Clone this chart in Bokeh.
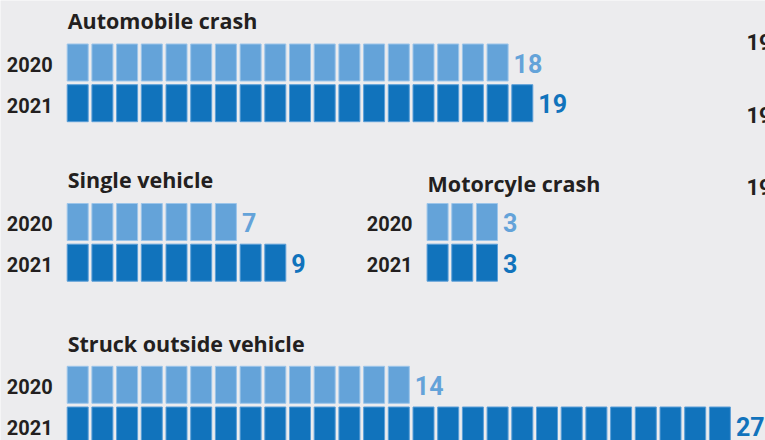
from bokeh.plotting import figure
from bokeh.models import Range1d, ColumnDataSource
from bokeh.embed import file_html
from bokeh.resources import INLINE
from bokeh.core.properties import value

# ---- data ----
panels = ["Automobile crash", "Single vehicle", "Motorcyle crash", "Struck outside vehicle"]
years = ["2020", "2021"]
counts_2020 = [18, 7, 3, 14]
counts_2021 = [19, 9, 3, 27]
side_labels = ["19", "19", "19"]

# ---- layout / style ----
W, H = 765, 440
PITCH = 24.7                       # px per square
X0_PX = 66.7                       # picture x of unit 0
x_start = -X0_PX / PITCH
x_end = x_start + W / PITCH

panel_x0 = [0.0, 0.0, 14.57, 0.0]             # square start, in square units
row_center_2020 = [62.0, 221.5, 221.5, 384.3]  # picture y
ROW_STEP = 40.7
ROW_H = 37.0
title_base = [28.3, 187.5, 191.5, 351.5]
side_base = [50.0, 123.3, 195.0]
side_x = (746.0 - X0_PX) / PITCH

FS_YEAR, FS_VAL, FS_TITLE, FS_SIDE = 20, 25, 21.5, 22
def shift(fs):
    return 0.38 * fs   # rendered baseline sits this much below the given y

LIGHT = "#64a3d9"
DARK = "#1173bc"
TXT = "#231f20"
BG = "#ececee"
FONT = value("Roboto")
TFONT = value("Open Sans")

p = figure(width=W, height=H, output_backend="svg", toolbar_location=None,
           x_range=Range1d(x_start, x_end), y_range=Range1d(H, 0),
           min_border=0, outline_line_color=None,
           background_fill_color=BG, border_fill_color=BG)
p.axis.visible = False
p.grid.visible = False

sq_x, sq_y, sq_c, sq_l = [], [], [], []
yl_x, yl_y, yl_t = [], [], []
vl_x, vl_y, vl_t, vl_c = [], [], [], []
for k, name in enumerate(panels):
    for r, (cnts, col, lcol) in enumerate([(counts_2020, LIGHT, "#9cc5ea"),
                                           (counts_2021, DARK, "#5c9fd8")]):
        n = cnts[k]
        yc = row_center_2020[k] + r * ROW_STEP
        for i in range(n):
            sq_x.append(panel_x0[k] + i + 0.5 - 3.7 / PITCH / 2)
            sq_y.append(yc)
            sq_c.append(col)
            sq_l.append(lcol)
        yl_x.append(panel_x0[k] - 14.5 / PITCH)
        yl_y.append(yc + 9.5 - shift(FS_YEAR))
        yl_t.append(years[r])
        vl_x.append(panel_x0[k] + n - 3.7 / PITCH + 5.5 / PITCH)
        vl_y.append(yc + 10.0 - shift(FS_VAL))
        vl_t.append(str(n))
        vl_c.append(col)

p.rect(x="x", y="y", width=(PITCH - 3.7) / PITCH, height=ROW_H,
       fill_color="c", line_color="l", line_width=1,
       source=ColumnDataSource(dict(x=sq_x, y=sq_y, c=sq_c, l=sq_l)))

p.text(x=yl_x, y=yl_y, text=yl_t, text_font=FONT, text_font_style="bold",
       text_font_size=f"{FS_YEAR}px", text_color=TXT, text_align="right",
       text_baseline="alphabetic")

p.text(x="x", y="y", text="t", text_color="c", text_font=FONT,
       text_font_style="bold", text_font_size=f"{FS_VAL}px", text_align="left",
       text_baseline="alphabetic",
       source=ColumnDataSource(dict(x=vl_x, y=vl_y, t=vl_t, c=vl_c)))

p.text(x=[panel_x0[k] + 0.02 for k in range(len(panels))],
       y=[b - shift(FS_TITLE) for b in title_base],
       text=panels, text_font=TFONT, text_font_style="bold",
       text_font_size=f"{FS_TITLE}px", text_color=TXT, text_align="left",
       text_baseline="alphabetic")

p.text(x=[side_x] * len(side_labels), y=[b - shift(FS_SIDE) for b in side_base],
       text=side_labels, text_font=FONT, text_font_style="bold",
       text_font_size=f"{FS_SIDE}px", text_color=TXT, text_align="left",
       text_baseline="alphabetic")

open("out.html", "w").write(file_html(p, INLINE))
